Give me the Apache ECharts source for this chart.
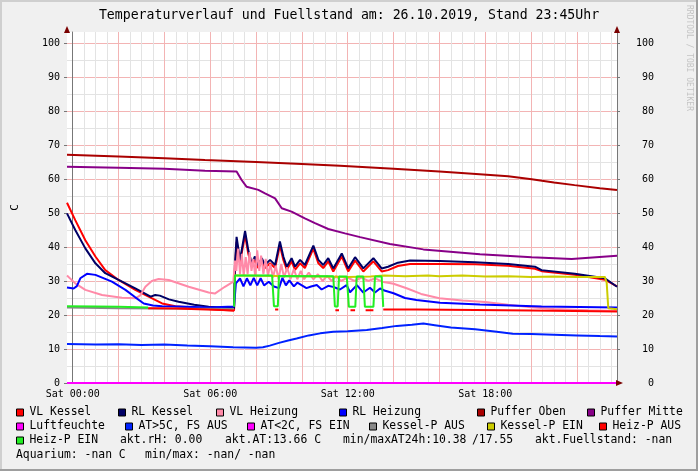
<!DOCTYPE html>
<html><head><meta charset="utf-8">
<script src="https://cdn.jsdelivr.net/npm/echarts@6/dist/echarts.min.js"></script>
<style>html,body{margin:0;padding:0;background:#f0f0f0}#c{width:698px;height:471px}</style>
</head><body><div id="c"></div>
<script>
// ---- data (x = hours of 26.10.2019, y = °C) ----
const titleText = 'Temperaturverlauf und Fuellstand am: 26.10.2019, Stand 23:45Uhr';
const xMin = -0.25, xMax = 23.75;
const yTicks = [0,10,20,30,40,50,60,70,80,90,100];
const xTickHours = [0,6,12,18];
const xTickPrefix = 'Sat';

const vlKessel = [[-0.25,53.0],[0.11,47.9],[0.55,42.0],[0.99,37.2],[1.42,33.2],[2.0,30.3],[2.73,27.4],[3.31,25.4],[3.9,23.4],[4.48,22.6],[5.2,22.2],[5.93,21.8],[6.6,21.5],[7.04,21.3],
 [7.08,34],[7.15,41.5],[7.30,35.5],[7.52,43.5],[7.66,38],[7.81,34.5],[7.95,36.2],[8.10,33.8],[8.25,35.8],[8.39,33.8],[8.61,35.2],[8.83,33.8],[9.04,40.5],[9.19,36.2],[9.34,33.3],[9.55,35.8],[9.70,33.3],[9.92,35.2],[10.13,33.8],[10.50,39.5],[10.72,35.2],[10.93,33.8],[11.15,35.8],[11.37,32.8],[11.74,37.2],[12.02,32.8],[12.32,36],[12.68,32.8],[13.12,35.8],[13.48,32.8],[13.76,33.2],[14.19,34.4],[14.72,35.0],[16.03,35.0],[17.56,34.9],[19.0,34.5],[20.17,33.6],[20.46,32.9],[21.91,31.8],[23.22,30.4],[23.75,28.4]];
const rlKessel = [[-0.25,49.9],[0.11,45],[0.55,39.6],[0.99,35.2],[1.42,32.3],[2.0,30.3],[2.73,27.8],[3.4,25.4],[3.6,25.9],[3.8,25.7],[4.2,24.6],[4.62,23.9],[5.3,23.0],[5.93,22.4],[6.6,22.1],[7.04,22.0],
 [7.08,35],[7.15,43],[7.30,36.2],[7.52,44.7],[7.66,39.1],[7.81,35.2],[7.95,37.2],[8.10,34.7],[8.25,36.7],[8.39,34.7],[8.61,36.2],[8.83,34.7],[9.04,41.6],[9.19,37.2],[9.34,34.2],[9.55,36.7],[9.70,34.2],[9.92,36.2],[10.13,34.7],[10.50,40.4],[10.72,36.2],[10.93,34.7],[11.15,36.7],[11.37,33.7],[11.74,38.1],[12.02,33.7],[12.32,37.0],[12.68,33.7],[13.12,36.7],[13.48,33.7],[13.76,34.2],[14.19,35.4],[14.72,36.0],[16.03,35.9],[17.56,35.5],[19.0,35.0],[20.17,34.2],[20.46,33.2],[21.91,32.1],[23.22,30.8],[23.75,28.3]];
const vlHeizung = [[-0.25,31.6],[0.11,29.3],[0.55,27.4],[1.28,25.9],[2.15,25.1],[2.73,24.9],[2.95,25.8],[3.17,28.3],[3.45,30.0],[3.75,30.6],[4.19,30.3],[5.06,28.3],[5.93,26.6],[6.2,26.3],[6.64,28.3],[7.01,29.8],
 [7.08,36],[7.14,33],[7.22,39.5],[7.30,32],[7.38,38],[7.46,31.5],[7.55,37],[7.63,32],[7.72,38.5],[7.80,33],[7.88,36.5],[7.96,31.5],[8.05,39],[8.14,33],[8.22,37.5],[8.32,32],[8.42,36.5],[8.52,31.5],[8.62,35],[8.74,31],[8.86,34.5],[8.98,30.5],[9.10,35],[9.22,31],[9.36,34],[9.50,30.5],[9.65,33.5],[9.80,30.5],[9.95,33],[10.10,30.5],[10.30,32.5],[10.50,30.5],[10.70,32],[10.90,30],[11.10,31.5],[11.30,30],[11.50,31.5],[11.70,30],[12.0,31],[12.3,30],[12.6,31],[12.9,30],[13.2,30.8],[13.5,29.8],[14.0,29.2],[14.6,27.8],[15.2,26.2],[16.0,24.9],[17.0,24.3],[18.0,23.8],[19.0,23.0],[20.0,22.3],[21.0,21.8],[22.5,21.4],[23.75,21.2]];
const rlHeizung = [[-0.25,28.1],[0.04,27.8],[0.18,28.5],[0.33,30.8],[0.62,32.1],[0.99,31.8],[1.71,29.8],[2.3,27.4],[2.73,25.2],[3.1,23.4],[3.5,22.8],[3.9,22.6],[5.0,22.4],[5.93,22.2],[7.04,22.5],
 [7.12,29.3],[7.30,30.8],[7.45,28.4],[7.60,30.8],[7.75,28.7],[7.90,30.9],[8.05,28.7],[8.20,30.8],[8.35,28.7],[8.55,29.8],[8.78,28.4],[9.0,27.9],[9.15,30.9],[9.30,28.7],[9.45,30.2],[9.65,28.4],[9.80,29.5],[10.2,27.9],[10.4,28.4],[10.65,28.8],[10.86,27.5],[11.15,28.6],[11.4,28.2],[11.66,27.5],[11.95,28.8],[12.1,26.7],[12.4,28.8],[12.68,26.6],[12.97,28.0],[13.19,26.6],[13.41,27.8],[13.6,27.2],[14.0,26.4],[14.5,25.0],[15.0,24.4],[16.03,23.6],[17.77,23.1],[20.46,22.5],[23.75,22.2]];
const pufferOben = [[-0.25,67.1],[2,66.6],[4,66.1],[5.77,65.6],[8,65.0],[10,64.4],[11.66,63.9],[14,63.0],[16,62.2],[17.6,61.5],[19,60.8],[20.03,59.9],[21,59.0],[21.9,58.2],[23,57.3],[23.75,56.8]];
const pufferMitte = [[-0.25,63.6],[2,63.3],[4,63.0],[5.77,62.4],[7.15,62.2],[7.37,59.7],[7.59,57.7],[8.10,56.8],[8.39,55.8],[8.83,54.3],[9.12,51.4],[9.55,50.4],[10.13,48.4],[10.57,47.0],[11.15,45.3],[11.88,44.0],[12.54,42.9],[13.84,40.9],[15.3,39.3],[17.77,37.9],[20.03,37.0],[21.77,36.5],[23.75,37.4]];
const luftfeuchte = [[-0.25,0],[23.75,0]];
const atUeber5 = [[-0.25,11.5],[1,11.3],[2,11.4],[3,11.2],[4,11.3],[5,11.0],[6,10.8],[7,10.5],[8,10.4],[8.3,10.5],[8.6,11.0],[9.0,11.8],[9.4,12.5],[9.77,13.1],[10.3,14.0],[10.8,14.6],[11.37,15.1],[12,15.2],[12.83,15.6],[13.5,16.2],[14.14,16.8],[14.8,17.1],[15.3,17.5],[15.8,17.0],[16.5,16.3],[17.56,15.8],[18.5,15.1],[19.2,14.5],[20,14.4],[21,14.2],[22,14.0],[23,13.8],[23.75,13.7]];
const atUnter2 = [];
const kesselPAus = [[-0.25,22.2],[2,22.0],[4,21.9],[7.04,21.8]];
const kesselPEin = [[7.06,31.6],[9.0,31.5],[11.0,31.3],[12.0,31.2],[13.0,31.3],[13.6,31.6],[14.5,31.4],[15.5,31.6],[16.0,31.4],[17.0,31.6],[18.0,31.3],[19.0,31.4],[20.0,31.2],[21.0,31.3],[22.0,31.2],[23.22,31.2],[23.3,29.5],[23.37,22.0],[23.75,21.7]];
const heizPAus = [[3.29,22.0],[4.5,21.9],[5.5,21.7],[6.5,21.5],[7.04,21.3],[7.05,null],[8.83,21.6],[8.97,21.6],[8.98,null],[11.46,21.4],[11.62,21.4],[11.63,null],[12.12,21.4],[12.32,21.4],[12.33,null],[12.78,21.4],[13.12,21.4],[13.13,null],[13.55,21.6],[15.0,21.6],[17.56,21.5],[20.0,21.3],[23.75,21.0]];
const heizPEin = [[-0.25,22.6],[1.0,22.5],[2.0,22.4],[3.29,22.2],[3.3,null],[7.04,22.4],[7.08,31.6],[8.70,31.6],[8.78,22.6],[8.95,22.6],[9.0,31.5],[11.37,31.4],[11.44,22.5],[11.56,22.5],[11.62,31.3],[11.96,31.3],[12.05,22.4],[12.33,22.4],[12.39,31.3],[12.68,31.3],[12.75,22.4],[13.12,22.4],[13.19,31.3],[13.48,31.3],[13.55,22.4]];

const seriesDefs = [
 ['VL Kessel', vlKessel, '#ff0000'],
 ['RL Kessel', rlKessel, '#000066'],
 ['VL Heizung', vlHeizung, '#ff8aa8'],
 ['RL Heizung', rlHeizung, '#0000ff'],
 ['Puffer Oben', pufferOben, '#aa0000'],
 ['Puffer Mitte', pufferMitte, '#880088'],
 ['Luftfeuchte', luftfeuchte, '#ff00ff'],
 ['AT>5C, FS AUS', atUeber5, '#0022ff'],
 ['AT<2C, FS EIN', atUnter2, '#ff00ff'],
 ['Kessel-P AUS', kesselPAus, '#888888'],
 ['Kessel-P EIN', kesselPEin, '#cccc00'],
 ['Heiz-P AUS', heizPAus, '#ff0000'],
 ['Heiz-P EIN', heizPEin, '#22ee22']
];
const legendRows = [
 [['VL Kessel',16],['RL Kessel',118],['VL Heizung',216],['RL Heizung',339],['Puffer Oben',477],['Puffer Mitte',587]],
 [['Luftfeuchte',16],['AT>5C, FS AUS',125],['AT<2C, FS EIN',247],['Kessel-P AUS',369],['Kessel-P EIN',487],['Heiz-P AUS',599]],
 [['Heiz-P EIN',16]]
];
const infoTexts = [
 ['akt.rH: 0.00',120,2],['akt.AT:13.66 C',225,2],['min/maxAT24h:10.38',343,2],['/17.55',472,2],['akt.Fuellstand: -nan',535,2],
 ['Aquarium: -nan C',16,3],['min/max: -nan/ -nan',145,3]
];

// ---- layout ----
const MONO = "'DejaVu Sans Mono', monospace";
const PL = 67, PR = 617, PT = 32, PB = 383, Y100 = 43;
const pxPerUnit = (PB - Y100) / 100;
const pxPerHour = (PR - PL) / (xMax - xMin);
const yTop = (PB - PT) / pxPerUnit;
const rowY = [411, 425, 439, 453.5];
const MAJ = '#f3b4b4', MIN = '#e3e3e3', AXC = '#777';

const chart = echarts.init(document.getElementById('c'), null, {renderer:'canvas'});
const legends = [];
legendRows.forEach((row, r) => row.forEach(([name, left]) => legends.push({
  data:[name], left:left, top:rowY[r]-4, padding:0, itemWidth:7, itemHeight:7, icon:'rect',
  selectedMode:false, itemStyle:{borderColor:'#000', borderWidth:1},
  textStyle:{fontFamily:MONO, fontSize:11.4, color:'#000', padding:[0,0,0,1]}
})));

const graphics = [
  {type:'rect', shape:{x:0,y:0,width:698,height:2}, style:{fill:'#cfcfcf'}, silent:true},
  {type:'rect', shape:{x:0,y:0,width:2,height:471}, style:{fill:'#cfcfcf'}, silent:true},
  {type:'rect', shape:{x:0,y:469,width:698,height:2}, style:{fill:'#9e9e9e'}, silent:true},
  {type:'rect', shape:{x:696,y:0,width:2,height:471}, style:{fill:'#9e9e9e'}, silent:true},
  {type:'text', x:693, y:5, rotation:-Math.PI/2, style:{text:'RRDTOOL / TOBI OETIKER', font:'8px '+MONO, fill:'#c4c4c4', align:'left', verticalAlign:'top'}, silent:true},
  {type:'polygon', shape:{points:[[PL,PT-6],[PL-3,PT+1],[PL+3,PT+1]]}, style:{fill:'#7a0000'}, z:10, silent:true},
  {type:'polygon', shape:{points:[[PR,PT-6],[PR-3,PT+1],[PR+3,PT+1]]}, style:{fill:'#7a0000'}, z:10, silent:true},
  {type:'polygon', shape:{points:[[PR+6,PB],[PR-1,PB-3],[PR-1,PB+3]]}, style:{fill:'#7a0000'}, z:10, silent:true}
];
infoTexts.forEach(([t, x, r]) => graphics.push({type:'text', x:x, y:rowY[r]+1.5, style:{text:t, font:'11.4px '+MONO, fill:'#000', align:'left', verticalAlign:'middle'}, silent:true}));

const pad = n => (n < 10 ? '0' : '') + n;
const option = {
  backgroundColor:'#f0f0f0',
  animation:false,
  title:{text:titleText, left:'center', top:9, padding:0, textStyle:{fontFamily:MONO, fontSize:13.2, fontWeight:'normal', color:'#000'}},
  grid:[
    {left:PL, top:PT, width:PR-PL, height:PB-PT, show:true, backgroundColor:'#ffffff', borderWidth:0, outerBoundsMode:'none'},
    {left:PL + (0 - xMin)*pxPerHour, top:PT, width:24*pxPerHour, height:PB-PT, show:false, outerBoundsMode:'none'},
    {left:PL, top:Y100, width:PR-PL, height:PB-Y100, show:false, outerBoundsMode:'none'}
  ],
  xAxis:[
    {gridIndex:0, type:'value', min:xMin, max:xMax, axisLabel:{show:false}, axisTick:{show:false}, splitLine:{show:false}, axisLine:{show:true, lineStyle:{color:AXC}}},
    {gridIndex:1, type:'value', min:0, max:24, interval:2, axisLine:{show:false}, axisTick:{show:false},
     axisLabel:{margin:6, fontFamily:MONO, fontSize:10, color:'#000', showMaxLabel:false,
       formatter:v => (xTickHours.indexOf(v) >= 0 ? xTickPrefix + ' ' + pad(v) + ':00' : '')},
     splitLine:{show:true, showMaxLine:false, lineStyle:{color:MAJ, width:1}},
     minorTick:{show:false, splitNumber:4}, minorSplitLine:{show:true, lineStyle:{color:MIN, width:1}}},
    {gridIndex:2, type:'value', min:0, max:1, show:false}
  ],
  yAxis:[
    {gridIndex:0, type:'value', min:0, max:yTop, axisLabel:{show:false}, axisTick:{show:false}, splitLine:{show:false},
     axisLine:{show:true, lineStyle:{color:AXC}},
     name:'C', nameLocation:'middle', nameGap:46, nameRotate:90, nameTextStyle:{fontFamily:MONO, fontSize:11, color:'#000'}},
    {gridIndex:0, type:'value', position:'right', min:0, max:yTop, axisLabel:{show:false}, axisTick:{show:false}, splitLine:{show:false},
     axisLine:{show:true, lineStyle:{color:AXC}}},
    {gridIndex:1, type:'value', min:0, max:1, show:false},
    {gridIndex:2, type:'value', min:yTicks[0], max:yTicks[yTicks.length-1], interval:yTicks[1]-yTicks[0], position:'left',
     axisLine:{show:false}, axisTick:{show:true, length:3, lineStyle:{color:AXC}},
     axisLabel:{margin:7, fontFamily:MONO, fontSize:10, color:'#000'},
     splitLine:{show:true, lineStyle:{color:MAJ, width:1}},
     minorTick:{show:false, splitNumber:2}, minorSplitLine:{show:true, lineStyle:{color:MIN, width:1}}},
    {gridIndex:2, type:'value', min:yTicks[0], max:yTicks[yTicks.length-1], interval:yTicks[1]-yTicks[0], position:'right',
     axisLine:{show:false}, axisTick:{show:true, length:3, lineStyle:{color:AXC}},
     axisLabel:{margin:37, align:'right', fontFamily:MONO, fontSize:10, color:'#000'},
     splitLine:{show:false}}
  ],
  legend:legends,
  graphic:graphics,
  series:seriesDefs.map(([name, data, color], i) => ({
    name:name, type:'line', data:data, xAxisIndex:0, yAxisIndex:0,
    color:color, itemStyle:{color:color}, showSymbol:false, symbol:'none',
    lineStyle:{color:color, width:2}, connectNulls:false, silent:true, z:2+i*0.01, clip:true
  }))
};
chart.setOption(option);
</script></body></html>
